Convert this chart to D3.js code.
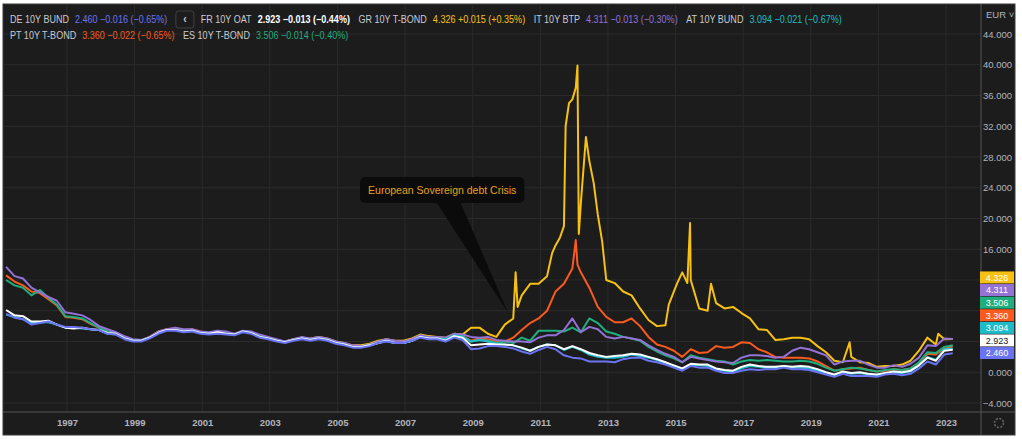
<!DOCTYPE html>
<meta charset="utf-8">
<script src="https://d3js.org/d3.v7.min.js"></script>
<style>
  body { margin: 0; background: #fff; }
  svg { display: block; font-family: "Liberation Sans", Arial, sans-serif; }
</style>
<div id="chart"></div>
<script>
// ---- data ------------------------------------------------------------
// quarterly sample dates as decimal years: 1995.2, 1995.45 ... 2023.2
var dates = d3.range(0, 113).map(function(i){ return 1995.2 + i * 0.25; });

var names = ["DE 10Y BUND", "FR 10Y OAT", "GR 10Y T-BOND", "IT 10Y BTP", "AT 10Y BUND", "PT 10Y T-BOND", "ES 10Y T-BOND"];
var lastValues = [2.460, 2.923, 4.326, 4.311, 3.094, 3.360, 3.506];
var changes    = [-0.016, -0.013, 0.015, -0.013, -0.021, -0.022, -0.014];
var changePct  = [-0.65, -0.44, 0.35, -0.30, -0.67, -0.65, -0.40];

var deYield = [7.6, 7.1, 6.9, 6.2,  6.4, 6.6, 6.2, 5.9,  5.9, 5.8, 5.6, 5.5,  5.0, 4.9, 4.3, 4.0,
  4.0, 4.4, 5.0, 5.4,  5.4, 5.2, 5.3, 5.0,  4.9, 5.0, 4.9, 4.8,  5.2, 5.0, 4.5, 4.3,
  4.0, 3.8, 4.1, 4.3,  4.1, 4.3, 4.1, 3.7,  3.5, 3.2, 3.2, 3.4,  3.8, 4.0, 3.8, 3.8,
  4.1, 4.5, 4.3, 4.3,  4.0, 4.5, 4.2, 3.0,  3.1, 3.4, 3.4, 3.3,  3.1, 2.7, 2.4, 2.9,
  3.3, 3.0, 2.2, 1.9,  1.8, 1.4, 1.4, 1.4,  1.3, 1.7, 1.9, 1.9,  1.5, 1.3, 1.0, 0.6,
  0.2, 0.8, 0.6, 0.6,  0.2, -0.1, -0.1, 0.2,  0.4, 0.3, 0.4, 0.4,  0.6, 0.4, 0.4, 0.3,
  0.0, -0.3, -0.6, -0.2,  -0.5, -0.45, -0.5, -0.6,  -0.3, -0.2, -0.4, -0.2,  0.5, 1.4, 1.0, 2.3,
  2.46];

var frYield = [8.1, 7.4, 7.3, 6.6,  6.6, 6.7, 6.2, 5.8,  5.7, 5.8, 5.6, 5.5,  5.1, 5.0, 4.4, 4.1,
  4.1, 4.5, 5.1, 5.5,  5.5, 5.3, 5.4, 5.1,  5.0, 5.2, 5.0, 4.9,  5.3, 5.1, 4.6, 4.4,
  4.1, 3.9, 4.2, 4.4,  4.2, 4.4, 4.2, 3.8,  3.6, 3.3, 3.3, 3.5,  3.8, 4.1, 3.8, 3.8,
  4.1, 4.6, 4.4, 4.4,  4.1, 4.7, 4.5, 3.5,  3.6, 3.7, 3.6, 3.6,  3.5, 3.2, 2.8, 3.3,
  3.6, 3.5, 3.0, 3.4,  3.0, 2.5, 2.2, 2.0,  2.1, 2.2, 2.4, 2.3,  2.0, 1.7, 1.3, 0.9,
  0.5, 1.1, 1.0, 1.0,  0.5, 0.3, 0.2, 0.7,  1.0, 0.8, 0.7, 0.7,  0.8, 0.7, 0.8, 0.7,
  0.4, 0.0, -0.3, 0.1,  -0.1, 0.0, -0.2, -0.3,  -0.1, 0.1, 0.0, 0.2,  0.9, 1.9, 1.5, 2.8,
  2.923];

var atYield = [7.5, 7.2, 6.9, 6.4,  6.5, 6.5, 6.2, 5.8,  5.8, 5.7, 5.6, 5.5,  5.0, 4.9, 4.4, 4.1,
  4.1, 4.5, 5.1, 5.5,  5.5, 5.3, 5.4, 5.1,  5.0, 5.1, 5.0, 4.9,  5.3, 5.1, 4.6, 4.4,
  4.1, 3.9, 4.2, 4.4,  4.2, 4.4, 4.2, 3.8,  3.6, 3.3, 3.3, 3.5,  3.8, 4.1, 3.8, 3.8,
  4.1, 4.6, 4.4, 4.4,  4.3, 4.8, 4.6, 4.0,  4.2, 4.0, 3.7, 3.6,  3.5, 3.1, 2.8, 3.3,
  3.6, 3.5, 2.9, 3.3,  2.9, 2.3, 2.0, 1.9,  1.9, 2.0, 2.3, 2.1,  1.9, 1.6, 1.2, 0.8,
  0.4, 0.9, 0.9, 0.8,  0.4, 0.2, 0.1, 0.5,  0.8, 0.7, 0.6, 0.6,  0.8, 0.6, 0.6, 0.5,
  0.2, -0.1, -0.4, 0.0,  -0.2, -0.1, -0.3, -0.4,  -0.2, -0.05, -0.1, 0.1,  0.9, 2.0, 1.6, 3.0,
  3.094];

var itYield = [13.7, 12.5, 12.2, 11.0,  10.4, 9.8, 9.3, 7.8,  7.6, 7.4, 6.8, 6.0,  5.6, 5.2, 4.7, 4.3,
  4.2, 4.6, 5.3, 5.6,  5.8, 5.6, 5.6, 5.3,  5.2, 5.4, 5.3, 5.0,  5.4, 5.3, 4.9, 4.6,
  4.3, 4.0, 4.3, 4.6,  4.4, 4.6, 4.4, 4.0,  3.8, 3.5, 3.4, 3.6,  4.0, 4.3, 4.1, 4.0,
  4.3, 4.8, 4.6, 4.6,  4.5, 5.0, 4.9, 4.6,  4.5, 4.6, 4.2, 4.1,  4.0, 4.0, 3.9, 4.5,
  4.8, 4.8, 5.5, 7.0,  5.2, 5.9, 5.6, 4.6,  4.4, 4.6, 4.4, 4.2,  3.5, 2.9, 2.4, 2.0,
  1.3, 2.0, 1.8, 1.6,  1.4, 1.3, 1.2, 1.9,  2.2, 2.2, 2.1, 1.9,  2.0, 2.8, 3.2, 3.0,
  2.6, 2.2, 1.0, 1.4,  1.5, 1.5, 1.0, 0.6,  0.6, 0.9, 0.7, 1.1,  1.9, 3.5, 3.4, 4.4,
  4.311];

var esYield = [12.0, 11.3, 11.0, 10.0,  10.7, 9.7, 8.8, 7.3,  7.2, 7.0, 6.4, 5.8,  5.3, 5.1, 4.5, 4.2,
  4.1, 4.5, 5.2, 5.5,  5.7, 5.5, 5.5, 5.2,  5.1, 5.3, 5.2, 4.9,  5.3, 5.2, 4.7, 4.4,
  4.1, 3.9, 4.2, 4.4,  4.2, 4.4, 4.2, 3.8,  3.6, 3.3, 3.3, 3.5,  3.8, 4.1, 3.8, 3.8,
  4.1, 4.6, 4.4, 4.4,  4.2, 4.8, 4.7, 4.0,  4.2, 4.1, 3.8, 4.0,  3.8, 4.5, 4.1, 5.4,
  5.4, 5.4, 5.3, 5.8,  5.2, 7.0, 6.4, 5.3,  5.0, 4.6, 4.4, 4.1,  3.3, 2.7, 2.2, 1.8,
  1.3, 2.2, 1.9, 1.7,  1.5, 1.4, 1.0, 1.4,  1.6, 1.5, 1.6, 1.5,  1.4, 1.4, 1.5, 1.4,
  1.1, 0.6, 0.2, 0.4,  0.6, 0.5, 0.3, 0.1,  0.3, 0.4, 0.3, 0.5,  1.3, 2.6, 2.5, 3.3,
  3.506];

var ptYield = [12.6, 11.8, 11.3, 10.5,  10.3, 9.5, 8.7, 7.2,  7.1, 6.9, 6.3, 5.8,  5.3, 5.1, 4.5, 4.2,
  4.1, 4.6, 5.3, 5.6,  5.7, 5.5, 5.6, 5.3,  5.1, 5.3, 5.2, 4.9,  5.3, 5.2, 4.7, 4.4,
  4.1, 3.9, 4.2, 4.4,  4.2, 4.4, 4.2, 3.8,  3.6, 3.3, 3.3, 3.5,  3.8, 4.1, 3.9, 3.9,
  4.1, 4.7, 4.5, 4.4,  4.3, 4.9, 4.7, 4.1,  4.4, 4.3, 4.0, 4.0,  4.5, 5.5, 6.4, 7.0,
  8.0, 10.5, 11.5, 13.5,  13.0, 11.0, 8.5, 7.2,  6.5, 6.5, 7.0, 6.0,  4.6, 3.6, 3.3, 2.8,
  2.0, 3.0, 2.5, 2.6,  3.4, 3.2, 3.3, 3.9,  3.8, 3.0, 2.6, 2.0,  1.9, 1.9, 1.9, 1.8,
  1.4, 0.8, 0.2, 0.4,  0.5, 0.6, 0.3, 0.1,  0.2, 0.4, 0.3, 0.5,  1.2, 2.4, 2.3, 3.2,
  3.36];
var ptSpikes = [[2012.05, 17.2], [2012.1, 14.0]];

// Greek series starts at 2003.45 (aligned to the end of the date grid)
var grYield = [4.0, 4.3, 4.5,
  4.4, 4.6, 4.4, 4.0,  3.8, 3.5, 3.5, 3.7,  4.1, 4.3, 4.1, 4.1,  4.4, 4.9, 4.7, 4.6,
  4.5, 5.0, 4.9, 5.8,  5.8, 5.0, 4.6, 6.2,  7.0, 10.0, 11.5, 11.5,  12.5, 16.5, 19.0, 35.5,
  22.0, 27.5, 20.5, 12.0,  11.6, 10.5, 10.0, 8.3,  6.8, 6.0, 6.1, 10.5,  13.0, 12.0, 8.3, 8.0,
  9.0, 8.3, 8.5, 7.7,  7.0, 5.6, 5.5, 4.2,  4.3, 4.5, 4.5, 4.3,  3.4, 2.6, 1.5, 1.3,
  2.0, 1.3, 1.2, 0.7,  0.8, 0.8, 1.0, 1.5,  2.8, 4.5, 3.6, 4.3,
  4.326];
var grSpikes = [[2010.27, 13.0], [2010.33, 8.5], [2011.35, 15.5], [2011.58, 17.5], [2011.75, 32.0],
  [2011.85, 35.0], [2012.05, 37.0], [2012.1, 39.9], [2012.14, 18.0], [2012.35, 30.6], [2012.58, 24.6],
  [2012.83, 17.0], [2014.8, 8.8], [2015.05, 11.6], [2015.35, 11.6], [2015.43, 19.4], [2016.05, 11.5],
  [2020.15, 3.9], [2022.77, 5.0]];

var yearTicks = [1997, 1999, 2001, 2003, 2005, 2007, 2009, 2011, 2013, 2015, 2017, 2019, 2021, 2023];
var yTicks = [-4, 0, 4, 8, 12, 16, 20, 24, 28, 32, 36, 40, 44];

var noteText = "European Sovereign debt Crisis";
var noteAt = [2008.1, 23.7];   // box centre (year, yield)
var noteTip = [2010.05, 7.7];  // where the pointer lands

// ---- styles ----------------------------------------------------------
var colors = ["#6a74f2", "#ffffff", "#f6c112", "#9472d6", "#1cbcc8", "#f95a1e", "#1fae7e"];
var bg = "#1c1c1c", gridCol = "#2b2b2b", axisText = "#b2b5be", sepCol = "#555";

var W = 1022, H = 439;
var panel = {left: 3, top: 4, right: 1015, bottom: 435};
var plotRight = 981, axisTop = 412;

function toDate(t) {
  var yr = Math.floor(t), a = new Date(yr, 0, 1), b = new Date(yr + 1, 0, 1);
  return new Date(+a + (t - yr) * (b - a));
}

var x = d3.scaleTime().domain([new Date(1997, 0, 1), new Date(2023, 0, 1)]).range([67, 946]);
var y = d3.scaleLinear().domain([-4, 44]).range([403, 34]);

var svg = d3.select("#chart").append("svg").attr("width", W).attr("height", H);

svg.append("rect")
  .attr("x", panel.left).attr("y", panel.top)
  .attr("width", panel.right - panel.left).attr("height", panel.bottom - panel.top)
  .attr("fill", bg).attr("stroke", "#3a3a3a");

svg.append("clipPath").attr("id", "plotclip").append("rect")
  .attr("x", panel.left).attr("y", panel.top)
  .attr("width", plotRight - panel.left).attr("height", axisTop - panel.top);

// grid
var grid = svg.append("g");
grid.selectAll(".hg").data(yTicks).enter().append("line")
  .attr("x1", panel.left).attr("x2", plotRight)
  .attr("y1", function(d){ return y(d); }).attr("y2", function(d){ return y(d); })
  .attr("stroke", gridCol);
grid.selectAll(".vg").data(yearTicks).enter().append("line")
  .attr("x1", function(d){ return x(new Date(d, 0, 1)); }).attr("x2", function(d){ return x(new Date(d, 0, 1)); })
  .attr("y1", panel.top).attr("y2", axisTop)
  .attr("stroke", gridCol);

// series
function buildSeries(values, extra) {
  var off = dates.length - values.length;
  var pts = values.map(function(v, i){ return [dates[i + off], v]; });
  (extra || []).forEach(function(p){ pts.push(p); });
  pts.sort(function(a, b){ return a[0] - b[0]; });
  return pts;
}
var series = [
  {key: "GR", data: buildSeries(grYield, grSpikes), color: colors[2]},
  {key: "PT", data: buildSeries(ptYield, ptSpikes), color: colors[5]},
  {key: "ES", data: buildSeries(esYield), color: colors[6]},
  {key: "IT", data: buildSeries(itYield), color: colors[3]},
  {key: "AT", data: buildSeries(atYield), color: colors[4]},
  {key: "FR", data: buildSeries(frYield), color: colors[1]},
  {key: "DE", data: buildSeries(deYield), color: colors[0]}
];

var line = d3.line()
  .x(function(d){ return x(toDate(d[0])); })
  .y(function(d){ return y(d[1]); });

svg.append("g").attr("clip-path", "url(#plotclip)")
  .selectAll("path").data(series).enter().append("path")
  .attr("d", function(s){ return line(s.data); })
  .attr("fill", "none")
  .attr("stroke", function(s){ return s.color; })
  .attr("stroke-width", 2)
  .attr("stroke-linejoin", "round");

// annotation
var note = svg.append("g");
var nx = x(toDate(noteAt[0])), ny = y(noteAt[1]);
var tx = x(toDate(noteTip[0])), ty = y(noteTip[1]);
var noteLabel = note.append("text")
  .attr("x", nx).attr("y", ny + 3.5)
  .attr("text-anchor", "middle")
  .attr("font-size", "10.5px")
  .attr("fill", "#e6a21a")
  .text(noteText);
var nw = noteLabel.node().getComputedTextLength() + 16, nh = 26;
note.insert("path", "text")
  .attr("d", "M" + (nx - 6) + "," + (ny + nh / 2 - 1) + "L" + tx + "," + ty + "L" + (nx + 18) + "," + (ny + nh / 2 - 1) + "Z")
  .attr("fill", "#0b0b0b");
note.insert("rect", "text")
  .attr("x", nx - nw / 2).attr("y", ny - nh / 2)
  .attr("width", nw).attr("height", nh)
  .attr("rx", 5).attr("fill", "#0b0b0b");

// separators
svg.append("line").attr("x1", plotRight).attr("x2", plotRight).attr("y1", panel.top).attr("y2", panel.bottom).attr("stroke", sepCol);
svg.append("line").attr("x1", panel.left).attr("x2", panel.right).attr("y1", axisTop).attr("y2", axisTop).attr("stroke", sepCol);

// last-value tags on the price axis, stacked so they don't overlap
var tagH = 12.6;
var tags = lastValues.map(function(v, i){ return {v: v, i: i}; })
  .sort(function(a, b){ return a.v - b.v; });
var prevY = Infinity;
tags.forEach(function(t){
  t.y = Math.min(y(t.v), prevY - tagH);
  prevY = t.y;
});
var tagTop = d3.min(tags, function(t){ return t.y; }) - tagH / 2;
var tagBottom = d3.max(tags, function(t){ return t.y; }) + tagH / 2;

// price axis (labels hidden where the tags sit on top of them)
var yAxis = svg.append("g")
  .attr("transform", "translate(" + plotRight + ",0)")
  .call(d3.axisRight(y).tickValues(yTicks.filter(function(d){
      return y(d) < tagTop - 5 || y(d) > tagBottom + 5;
    })).tickFormat(d3.format(".3f")).tickSize(0));
yAxis.select(".domain").remove();
yAxis.selectAll("text")
  .attr("x", 31).attr("text-anchor", "end")
  .attr("fill", axisText).attr("font-size", "9.5px")
  .attr("font-family", "Liberation Sans, Arial, sans-serif");

svg.append("text").attr("x", 986).attr("y", 18)
  .attr("fill", axisText).attr("font-size", "9.5px").text("EUR \u02C5");

var tagG = svg.selectAll(".tag").data(tags).enter().append("g");
tagG.append("rect")
  .attr("x", 980).attr("y", function(t){ return t.y - tagH / 2; })
  .attr("width", 34).attr("height", tagH - 0.6)
  .attr("fill", function(t){ return colors[t.i]; });
tagG.append("text")
  .attr("x", 997).attr("y", function(t){ return t.y + 3; })
  .attr("text-anchor", "middle").attr("font-size", "9px")
  .attr("fill", function(t){ return t.i === 1 ? "#131722" : "#fff"; })
  .text(function(t){ return t.v.toFixed(3); });

// time axis
var xAxis = svg.append("g")
  .attr("transform", "translate(0," + axisTop + ")")
  .call(d3.axisBottom(x).tickValues(yearTicks.map(function(d){ return new Date(d, 0, 1); }))
    .tickFormat(d3.timeFormat("%Y")).tickSize(0).tickPadding(7));
xAxis.select(".domain").remove();
xAxis.selectAll("text")
  .attr("fill", axisText).attr("font-size", "9.5px").attr("font-weight", "bold")
  .attr("font-family", "Liberation Sans, Arial, sans-serif");

// gear icon
svg.append("circle").attr("cx", 999).attr("cy", 423).attr("r", 4.5)
  .attr("fill", "none").attr("stroke", "#666").attr("stroke-width", 1.6)
  .attr("stroke-dasharray", "2,1.5");

// legend
function signed(v, d) { return (v < 0 ? "\u2212" : "+") + Math.abs(v).toFixed(d); }
var legend = svg.append("g").attr("transform", "translate(10,0) scale(0.86,1)");
var rows = [[0, "btn", 1, 2, 3, 4], [5, 6]];
var rowY = [23.5, 39.5];
rows.forEach(function(row, r){
  var cx = 0;
  row.forEach(function(i){
    if (i === "btn") {
      legend.append("rect").attr("x", cx).attr("y", 11).attr("width", 21).attr("height", 17)
        .attr("rx", 3).attr("fill", bg).attr("stroke", "#444");
      legend.append("text").attr("x", cx + 10.5).attr("y", 23).attr("text-anchor", "middle")
        .attr("font-size", "12px").attr("font-weight", "bold").attr("fill", "#ccc").text("\u2039");
      cx += 29;
      return;
    }
    var n = legend.append("text").attr("x", cx).attr("y", rowY[r])
      .attr("font-size", "10.5px").attr("fill", "#c9cbd0").text(names[i]);
    cx += n.node().getComputedTextLength() + 7;
    var v = legend.append("text").attr("x", cx).attr("y", rowY[r])
      .attr("font-size", "10.5px")
      .attr("fill", colors[i])
      .attr("font-weight", i === 1 ? "bold" : "normal")
      .text(lastValues[i].toFixed(3) + " " + signed(changes[i], 3) + " (" + signed(changePct[i], 2) + "%)");
    cx += v.node().getComputedTextLength() + 10;
  });
});
</script>
